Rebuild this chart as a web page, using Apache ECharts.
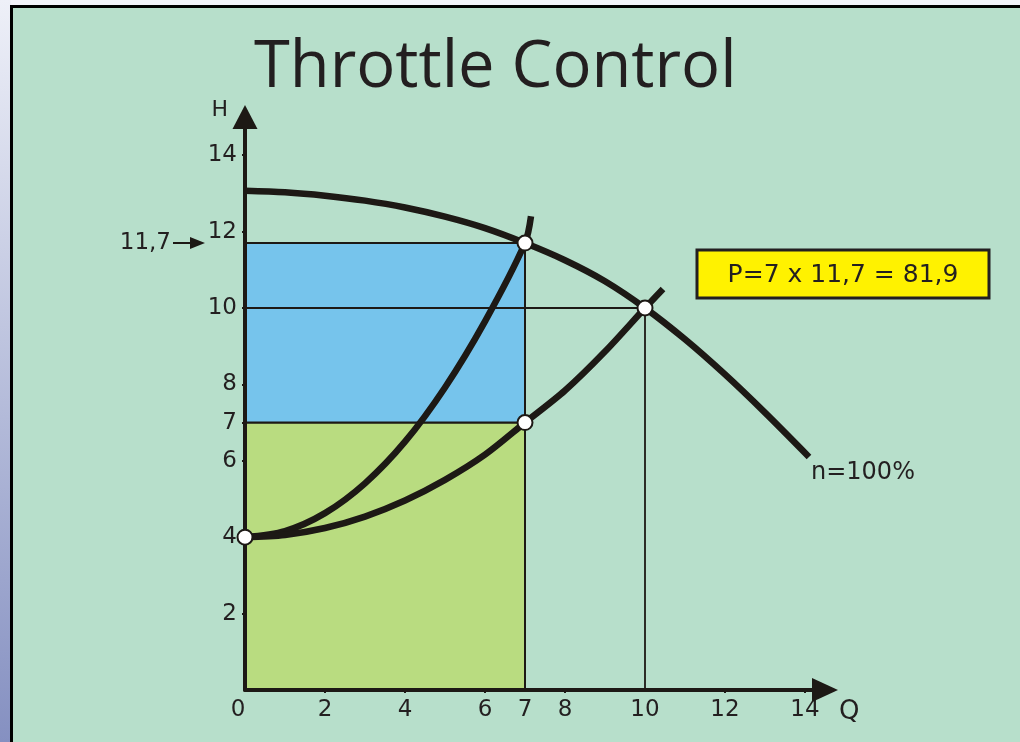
<!DOCTYPE html>
<html><head><meta charset="utf-8">
<script src="https://cdn.jsdelivr.net/npm/echarts@6/dist/echarts.min.js"></script>
<style>html,body{margin:0;padding:0;background:#f3f4fa;}#c{width:1020px;height:742px;}</style>
</head><body><div id="c"></div>
<script>
// ---- data ----
const xTickValues = [0, 2, 4, 6, 7, 8, 10, 12, 14];
const yTickValues = [2, 4, 6, 7, 8, 10, 12, 14];
const pumpQ = [0, 1, 2, 3, 4, 5, 6, 7, 8, 9, 10, 11, 12, 13, 14.1];
const pumpH = [13.07, 13.03, 12.94, 12.81, 12.63, 12.39, 12.09, 11.7, 11.25, 10.7, 10.0, 9.18, 8.26, 7.26, 6.1];
const throttledQ = [0, 1, 2, 3, 4, 5, 6, 7, 7.15];
const throttledH = [4, 4.16, 4.63, 5.41, 6.5, 7.92, 9.65, 11.7, 12.4];
const systemQ = [0, 1, 2, 3, 4, 5, 6, 7, 8, 9, 10, 10.45];
const systemH = [4, 4.06, 4.24, 4.54, 4.96, 5.5, 6.16, 7.0, 7.84, 8.86, 10.0, 10.5];
const pointQ = [0, 7, 7, 10];
const pointH = [4, 7, 11.7, 10];
const areaBounds = [[0, 0, 7, 7], [0, 7, 7, 11.7]];   // [Q0, H0, Q1, H1]
const guideQ = [0, 10, 10];
const guideH = [10, 10, 0];
const markedHead = 11.7;
const pumpLabel = 'n=100%';
const titleText = 'Throttle Control';
const powerText = 'P=7 x 11,7 = 81,9';

// ---- styles ----
const INK = '#1d1915';
const TXT = '#231f20';
const areaColors = ['#b9dc80', '#76c4ec'];
const LBL = 'DejaVu Sans';

const zip = (a, b) => a.map((v, i) => [v, b[i]]);

const chart = echarts.init(document.getElementById('c'), null, {renderer: 'canvas'});
chart.setOption({
  backgroundColor: '#f3f4fa',
  animation: false,
  title: {
    text: titleText, left: 249, top: 31,
    textStyle: {fontFamily: 'Open Sans', fontSize: 65, fontWeight: 'normal', color: TXT}
  },
  grid: {left: 245, right: 195, top: 117, bottom: 52, outerBoundsMode: 'none', containLabel: false},
  xAxis: {
    type: 'value', min: 0, max: 14.5, z: 10,
    name: 'Q', nameLocation: 'end', nameGap: 14,
    nameTextStyle: {fontFamily: LBL, fontSize: 26, color: TXT, verticalAlign: 'top', align: 'left', padding: [9, 0, 0, 0]},
    splitLine: {show: false},
    axisLine: {show: true, onZero: false, symbol: ['none', 'triangle'], symbolSize: [24, 26],
      lineStyle: {color: INK, width: 4}},
    axisTick: {show: true, length: 3, inside: false, customValues: xTickValues.filter(v => v !== 0 && v !== 7 && v !== 10),
      lineStyle: {color: INK, width: 2}},
    axisLabel: {
      customValues: xTickValues, margin: 9, fontFamily: LBL, fontSize: 23, color: TXT,
      formatter: v => v === 0 ? '{z|0}' : String(v),
      rich: {z: {fontFamily: LBL, fontSize: 23, color: TXT, padding: [0, 14, 4, 0]}}
    }
  },
  yAxis: {
    type: 'value', min: 0, max: 15, z: 10,
    name: 'H', nameLocation: 'end', nameGap: -4,
    nameTextStyle: {fontFamily: LBL, fontSize: 22, color: TXT, align: 'right', verticalAlign: 'bottom', padding: [0, 17, 0, 0]},
    splitLine: {show: false},
    axisLine: {show: true, onZero: false, symbol: ['none', 'triangle'], symbolSize: [25, 24],
      lineStyle: {color: INK, width: 4}},
    axisTick: {show: true, length: 3, customValues: yTickValues, lineStyle: {color: INK, width: 2}},
    axisLabel: {customValues: yTickValues, margin: 8, fontFamily: LBL, fontSize: 23, color: TXT}
  },
  graphic: [
    {type: 'rect', z: -100, silent: true, shape: {x: 0, y: 0, width: 1020, height: 742}, style: {fill: '#f3f4fa'}},
    {type: 'rect', z: -99, silent: true, shape: {x: 0, y: 0, width: 11, height: 742},
      style: {fill: new echarts.graphic.LinearGradient(0, 0, 0, 1, [{offset: 0, color: '#eef0f8'}, {offset: 1, color: '#8590c1'}])}},
    {type: 'rect', z: -98, silent: true, shape: {x: 11.5, y: 6.5, width: 1020, height: 750},
      style: {fill: '#b7dfcb', stroke: '#000000', lineWidth: 3}},
    {type: 'rect', z: 50, silent: true, shape: {x: 697, y: 250, width: 292, height: 48},
      style: {fill: '#fff200', stroke: '#231f20', lineWidth: 3}},
    {type: 'text', z: 51, silent: true, x: 843, y: 275,
      style: {text: powerText, fontFamily: LBL, fontSize: 25, fill: TXT, align: 'center', verticalAlign: 'middle'}}
  ],
  series: [
    {
      type: 'custom', name: 'areas', z: 1, clip: false,
      data: areaBounds,
      encode: {x: [0, 2], y: [1, 3]},
      renderItem: (params, api) => {
        const p0 = api.coord([api.value(0), api.value(1)]);
        const p1 = api.coord([api.value(2), api.value(3)]);
        return {type: 'rect',
          shape: {x: p0[0], y: p1[1], width: p1[0] - p0[0], height: p0[1] - p1[1]},
          style: {fill: areaColors[params.dataIndex], stroke: INK, lineWidth: 2}};
      }
    },
    {
      type: 'line', name: 'guide', z: 2, data: zip(guideQ, guideH), showSymbol: false, symbol: 'none',
      lineStyle: {color: INK, width: 1.8}, silent: true
    },
    {
      type: 'line', name: 'pump', z: 3, data: zip(pumpQ, pumpH), smooth: 0.3, symbol: 'none',
      lineStyle: {color: INK, width: 6.5, cap: 'butt'},
      endLabel: {show: true, formatter: pumpLabel, distance: 0, offset: [2, 16], fontFamily: LBL, fontSize: 24, color: TXT}
    },
    {
      type: 'line', name: 'throttled', z: 3, data: zip(throttledQ, throttledH), smooth: 0.3, symbol: 'none',
      lineStyle: {color: INK, width: 6.5, cap: 'butt'}
    },
    {
      type: 'line', name: 'system', z: 3, data: zip(systemQ, systemH), smooth: 0.3, symbol: 'none',
      lineStyle: {color: INK, width: 6.5, cap: 'butt'}
    },
    {
      type: 'scatter', name: 'points', z: 20, data: zip(pointQ, pointH),
      symbol: 'circle', symbolSize: 15,
      itemStyle: {color: '#ffffff', borderColor: INK, borderWidth: 2, opacity: 1},
      markPoint: {
        silent: true,
        symbol: 'path://M0,5 L17,5 L17,0 L32,6 L17,12 L17,7 L0,7 Z',
        symbolSize: [32, 12], symbolKeepAspect: false, symbolOffset: [-56, 0],
        itemStyle: {color: INK},
        label: {show: true, position: 'left', distance: 2, formatter: '11,7', fontFamily: LBL, fontSize: 23, color: TXT},
        data: [{coord: [0, markedHead]}]
      }
    }
  ]
});
</script></body></html>
